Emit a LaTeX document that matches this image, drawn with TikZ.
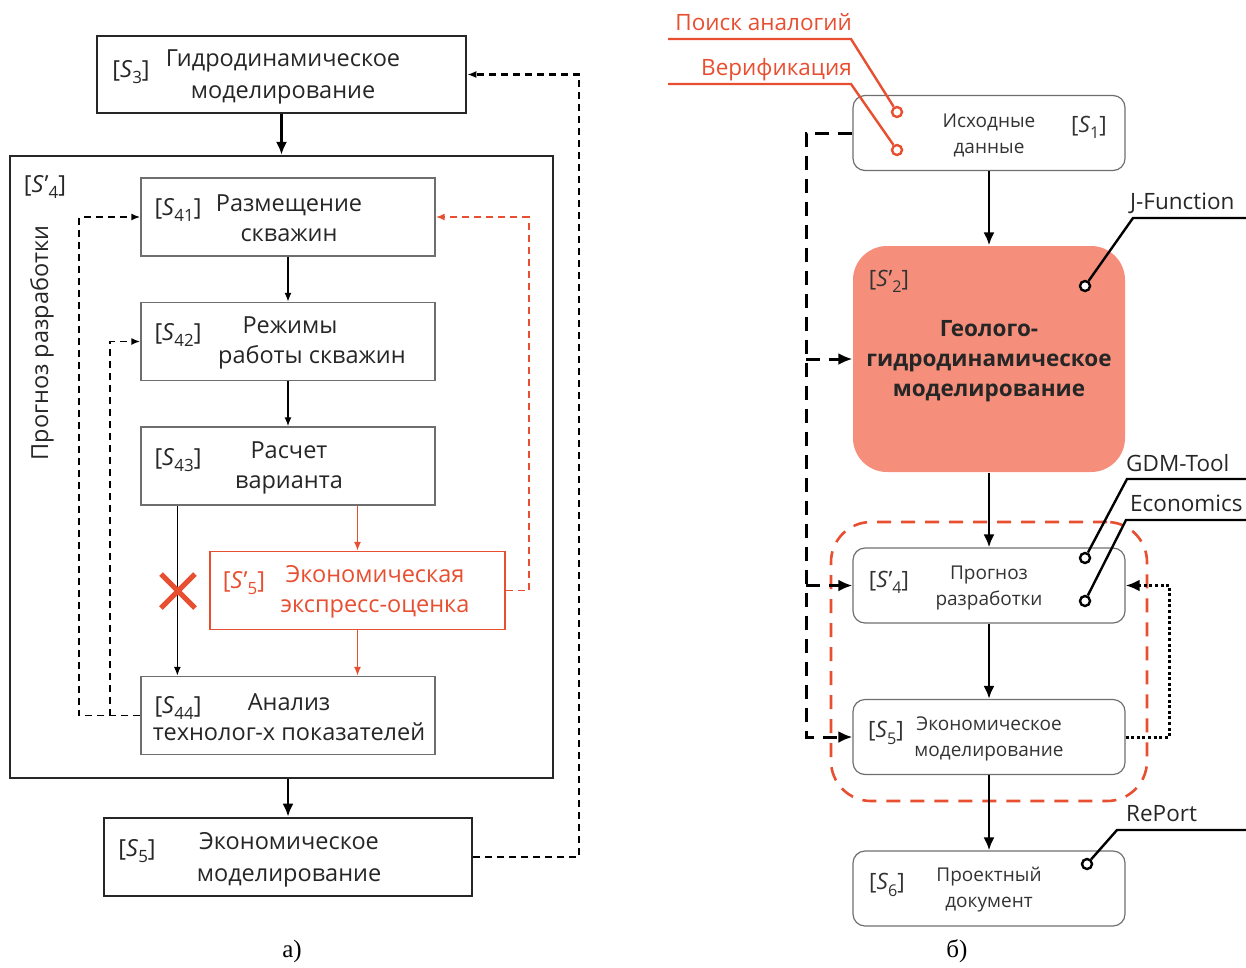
\documentclass[tikz,border=0pt]{standalone}
\usepackage{fontspec}
\setmainfont{Open Sans}
\newfontfamily\capfont{Liberation Serif}
\usetikzlibrary{arrows.meta,calc}
\definecolor{lred}{RGB}{232,78,48}
\definecolor{salmon}{RGB}{245,143,124}
\definecolor{gbord}{RGB}{110,110,110}
\makeatletter
\newcommand\mysub[1]{\raisebox{-0.28em}{\fontsize{0.72\dimexpr\f@size pt\relax}{0pt}\selectfont #1}}
\makeatother
\newcommand\mylbl[1]{[\textit{S}\mysub{#1}]}
\newcommand\mylblp[1]{[\textit{S}\kern.03em’\mysub{#1}]}
\begin{document}
\begin{tikzpicture}[x=1pt,y=-1pt,
  lbox/.style={draw=gbord, line width=1.3pt, minimum width=294pt, minimum height=78pt, inner sep=0pt},
  tbox/.style={draw=black!85, line width=2.6pt, inner sep=0pt},
  ltxt/.style={font=\fontsize{23.5}{30}\selectfont, align=center, inner sep=0pt, text=black!85},
  ttxt/.style={font=\fontsize{23.5}{32.5}\selectfont, align=center, inner sep=0pt, text=black!85},
  rtxt/.style={font=\fontsize{19}{26}\selectfont, align=center, inner sep=0pt, text=black!80},
  rlbl/.style={font=\fontsize{22.5}{24}\selectfont, inner sep=0pt, text=black!80},
  rbox/.style={draw=gbord, line width=1.2pt, rounded corners=12pt, minimum width=272pt, minimum height=75pt, inner sep=0pt},
  callout/.style={font=\fontsize{22.5}{24}\selectfont, inner sep=0pt, text=black!85},
  pincirc/.style={circle, draw, fill=white, line width=2.4pt, minimum size=10pt, inner sep=0pt},
  thinarrow/.style={-{Latex[length=9pt,width=7pt]}, line width=1.6pt},
  thickarrow/.style={-{Latex[length=13pt,width=11pt]}, line width=2.6pt},
  ldash/.style={line width=1.9pt, dash pattern=on 7pt off 5pt},
  rdash/.style={line width=3pt, dash pattern=on 14pt off 9pt, -{Latex[length=14pt,width=12pt]}},
  rdot/.style={line width=3pt, dash pattern=on 3pt off 2.6pt, -{Latex[length=14pt,width=12pt]}},
]
\useasboundingbox (0,0) rectangle (1246,967);

% ---------------- left diagram ----------------
\node[tbox, minimum width=369pt, minimum height=77pt] (s3) at (281.5,74.5) {};
\node[ttxt] (s3t) at (283,77) {Гидродинамическое\\моделирование};
\node[ltxt] (s3l) at (131,72) {\mylbl{3}};

\node[tbox, line width=2.2pt, minimum width=543pt, minimum height=622pt] (s4o) at (281.5,467) {};
\node[ltxt] (s4ol) at (45,187) {\mylblp{4}};
\node[ltxt, rotate=90] (s4ot) at (42,343) {Прогноз разработки};

\node[lbox] (s41) at (288,217) {};
\node[ltxt] (s41t) at (289,218) {Размещение\\скважин};
\node[ltxt] (s41l) at (178,210) {\mylbl{41}};

\node[lbox] (s42) at (288,341.5) {};
\node[ltxt] (s42t) at (312,343) {Режимы\hspace*{44pt}\\работы скважин};
\node[ltxt] (s42l) at (178,335) {\mylbl{42}};

\node[lbox] (s43) at (288,466) {};
\node[ltxt] (s43t) at (289,468) {Расчет\\варианта};
\node[ltxt] (s43l) at (178,460) {\mylbl{43}};

\node[lbox, draw=lred, minimum width=295pt] (s5p) at (357.5,590.5) {};
\node[ltxt, text=lred] (s5pt) at (375,592) {Экономическая\\экспресс-оценка};
\node[ltxt, text=lred] (s5pl) at (244,583) {\mylblp{5}};

\node[lbox] (s44) at (288,715.5) {};
\node[ltxt] (s44t) at (289,717) {Анализ\\технолог-х показателей};
\node[ltxt] (s44l) at (178,708) {\mylbl{44}};

\node[tbox, minimum width=368pt, minimum height=78pt] (s5) at (288,857) {};
\node[ttxt] (s5t) at (289,860) {Экономическое\\моделирование};
\node[ltxt] (s5l) at (137,851) {\mylbl{5}};

\node[font=\capfont\fontsize{25}{28}\selectfont, inner sep=0pt] (capa) at (292,951) {а)};

\draw[thickarrow] (s3) -- (s4o);
\draw[thickarrow] (s5.north |- s4o.south) -- (s5.north);
\draw[thinarrow] (s41) -- (s42);
\draw[thinarrow] (s42) -- (s43);
\draw[thinarrow] ($(s43.south west)+(37,0)$) -- ($(s44.north west)+(37,0)$);
\draw[thinarrow, lred] (s5p.north |- s43.south) -- (s5p.north);
\draw[thinarrow, lred] (s5p) -- (s5p.south |- s44.north);
\draw[thinarrow, lred, ldash] (s5p.east) -- ++(23,0) |- (s41.east);
\draw[thinarrow, ldash] (s44.west) -- ++(-61,0) |- (s41.west);
\draw[thinarrow, ldash] ($(s44.west)+(-30,0)$) |- (s42.west);
\draw[thinarrow, ldash, line width=2.2pt] (s5.east) -- ++(106,0) |- (s3.east);
\draw[lred, line width=5pt] (161,574) -- (195,608) (161,608) -- (195,574);

% ---------------- right diagram ----------------
\node[rbox] (r1) at (989,133) {};
\node[rtxt] (r1t) at (989,135) {Исходные\\данные};
\node[rlbl] (r1l) at (1089,127) {\mylbl{1}};

\node[rbox, fill=salmon, draw=none, rounded corners=34pt, minimum height=226pt] (r2) at (989,359) {};
\node[font=\bfseries\fontsize{22.5}{30}\selectfont, align=center, inner sep=0pt, text=black!85] (r2t) at (989,361) {Геолого-\\гидродинамическое\\моделирование};
\node[rlbl] (r2l) at (889,281) {\mylblp{2}};

\node[rbox] (r4) at (989,585.5) {};
\node[rtxt] (r4t) at (989,588) {Прогноз\\разработки};
\node[rlbl] (r4l) at (889,582) {\mylblp{4}};

\node[rbox] (r5) at (989,737) {};
\node[rtxt] (r5t) at (989,739) {Экономическое\\моделирование};
\node[rlbl] (r5l) at (886,733) {\mylbl{5}};

\node[rbox] (r6) at (989,888.5) {};
\node[rtxt] (r6t) at (989,890) {Проектный\\документ};
\node[rlbl] (r6l) at (887,885) {\mylbl{6}};

\node[draw=lred, line width=2.6pt, dash pattern=on 14pt off 10pt, rounded corners=40pt, minimum width=316pt, minimum height=279pt, inner sep=0pt] (grp) at (989,661.5) {};

\node[font=\capfont\fontsize{25}{28}\selectfont, inner sep=0pt] (capb) at (957,951) {б)};

\draw[thickarrow] (r1) -- (r2);
\draw[thickarrow] (r2) -- (r4);
\draw[thickarrow] (r4) -- (r5);
\draw[thickarrow] (r5) -- (r6);

\coordinate (dx) at (806,0);
\draw[rdash] (r1.west) -| (dx |- r5.west) -- (r5.west);
\draw[rdash] (dx |- r2.west) -- (r2.west);
\draw[rdash] (dx |- r4.west) -- (r4.west);
\draw[rdot] (r5.east) -- ++(44,0) |- (r4.east);

% callouts
\node[callout, text=lred, anchor=base east] (pa) at (852,30) {Поиск аналогий};
\node[callout, text=lred, anchor=base east] (vf) at (852,75) {Верификация};
\node[callout, anchor=base west] (jf) at (1130,209) {J-Function};
\node[callout, anchor=base west] (gdm) at (1126,471) {GDM-Tool};
\node[callout, anchor=base west] (eco) at (1130,511) {Economics};
\node[callout, anchor=base west] (rep) at (1126,821) {RePort};

\coordinate (pa0) at (668,39);
\coordinate (pa1) at (851,39);
\coordinate (vf0) at (668,84);
\coordinate (vf1) at (851,84);
\coordinate (jf0) at (1246,218);
\coordinate (jf1) at (1133,218);
\coordinate (gd0) at (1246,479);
\coordinate (gd1) at (1127,479);
\coordinate (ec0) at (1246,520);
\coordinate (ec1) at (1126,520);
\coordinate (rp0) at (1246,830);
\coordinate (rp1) at (1117,830);

\node[pincirc, draw=lred] (cpa) at (897,112) {};
\node[pincirc, draw=lred] (cvf) at (897,150) {};
\node[pincirc] (cjf) at (1085,286) {};
\node[pincirc] (cgd) at (1085,558) {};
\node[pincirc] (cec) at (1085,601) {};
\node[pincirc] (crp) at (1087,864) {};

\draw[lred, line width=2.4pt] (pa0) -- (pa1) -- (cpa);
\draw[lred, line width=2.4pt] (vf0) -- (vf1) -- (cvf);
\draw[line width=2.4pt] (jf0) -- (jf1) -- (cjf);
\draw[line width=2.4pt] (gd0) -- (gd1) -- (cgd);
\draw[line width=2.4pt] (ec0) -- (ec1) -- (cec);
\draw[line width=2.4pt] (rp0) -- (rp1) -- (crp);
\end{tikzpicture}
\end{document}
